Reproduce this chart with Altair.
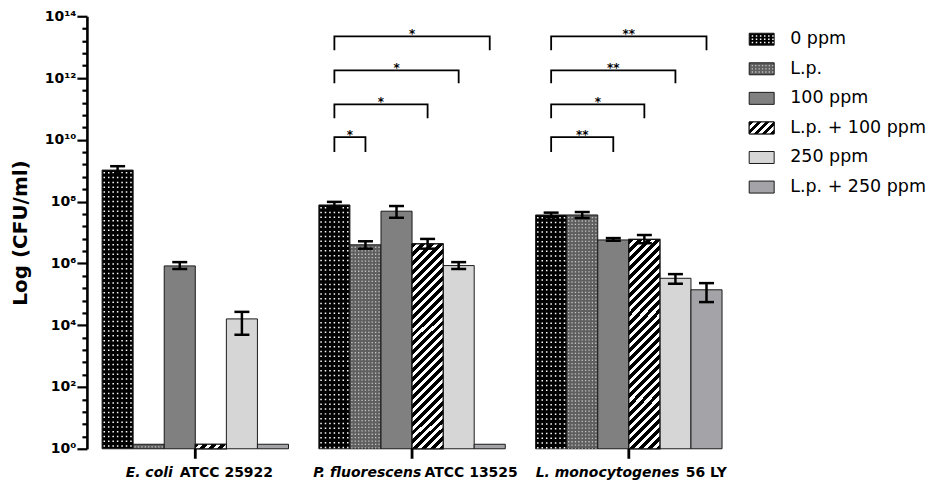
import math
import altair as alt
import pandas as pd

# ---------------- data ----------------
groups = ["E. coli ATCC 25922", "P. fluorescens ATCC 13525", "L. monocytogenes 56 LY"]
group_italic = ["E. coli", "P. fluorescens", "L. monocytogenes"]
group_plain = ["ATCC 25922", "ATCC 13525", "56 LY"]
treatments = ["0 ppm", "L.p.", "100 ppm", "L.p. + 100 ppm", "250 ppm", "L.p. + 250 ppm"]

ecoli_mean = [1.05e9, 1.4, 8.3e5, 1.4, 1.6e4, 1.4]
ecoli_low = [7.5e8, None, 6.6e5, None, 4.9e3, None]
ecoli_high = [1.4e9, None, 1.1e6, None, 2.7e4, None]

pfluo_mean = [7.8e7, 4.0e6, 4.9e7, 4.3e6, 8.5e5, 1.4]
pfluo_low = [6.2e7, 3.0e6, 3.0e7, 3.0e6, 6.6e5, None]
pfluo_high = [9.8e7, 5.2e6, 7.2e7, 6.2e6, 1.1e6, None]

lmono_mean = [3.7e7, 3.7e7, 5.75e6, 6.0e6, 3.3e5, 1.4e5]
lmono_low = [3.2e7, 2.95e7, 5.4e6, 4.5e6, 2.2e5, 5.6e4]
lmono_high = [4.4e7, 4.6e7, 6.6e6, 8.3e6, 4.5e5, 2.3e5]

# significance brackets, all starting at "0 ppm"
sig_group = [groups[1]] * 4 + [groups[2]] * 4
sig_to = ["L.p.", "L.p. + 100 ppm", "250 ppm", "L.p. + 250 ppm",
          "100 ppm", "L.p. + 100 ppm", "250 ppm", "L.p. + 250 ppm"]
sig_label = ["*", "*", "*", "*", "**", "*", "**", "**"]
sig_top = [1.23e10, 1.41e11, 1.78e12, 2.24e13] * 2
sig_foot = [4.0e9, 5.0e10, 6.8e11, 7.9e12] * 2

# axis ticks: labelled decades and minor ticks every 0.4 decade
major_exps = [0, 2, 4, 6, 8, 10, 12, 14]
minor_exps = [round(0.4 * k, 1) for k in range(36) if (k % 5) != 0]

# ---------------- tables ----------------
rows = []
for g, ms, lo, hi in [(groups[0], ecoli_mean, ecoli_low, ecoli_high),
                      (groups[1], pfluo_mean, pfluo_low, pfluo_high),
                      (groups[2], lmono_mean, lmono_low, lmono_high)]:
    for t, m, l, h in zip(treatments, ms, lo, hi):
        rows.append({"group": g, "treatment": t, "mean": m, "low": l, "high": h})
df = pd.DataFrame(rows)
err = df.dropna(subset=["low"]).copy()

br_rows, star_rows = [], []
for i, (g, to, lab, top, foot) in enumerate(zip(sig_group, sig_to, sig_label, sig_top, sig_foot)):
    pts = [(treatments[0], foot), (treatments[0], top), (to, top), (to, foot)]
    for s, (t, yv) in enumerate(pts):
        br_rows.append({"group": g, "bid": i, "seq": s, "treatment": t, "y": yv})
    mid = (0 + treatments.index(to)) / 2
    star_rows.append({"group": g, "treatment": treatments[int(math.floor(mid))],
                      "half": mid != int(mid), "label": lab, "top": top})
br = pd.DataFrame(br_rows)
stars = pd.DataFrame(star_rows)
labs = pd.DataFrame({"group": groups, "italic": group_italic, "plain": group_plain})

# ---------------- styles ----------------
fill_colors = ["#000000", "#5f5f5f", "#808080", "#000000", "#d6d6d6", "#a3a3a8"]
W, H = 651, 433
BAR_W = 31.1


def stripes(w, h, period, white=0.45):
    a = (w + h) * w * h / (w * w + h * h)
    n = (w + h) / period
    stops = []
    k = 0
    while k / n < 1:
        for off, col in [(k / n, "black"), ((k + 1 - white) / n, "black"),
                         ((k + 1 - white) / n, "white"), ((k + 1) / n, "white")]:
            stops.append(alt.GradientStop(color=col, offset=min(off, 1.0)))
        k += 1
    return alt.LinearGradient(gradient="linear", stops=stops, x1=0, y1=0, x2=a / h, y2=a / w)


x_scale = alt.Scale(domain=groups, paddingInner=0.14, paddingOuter=0.07)
xo_scale = alt.Scale(domain=treatments, paddingInner=0, paddingOuter=0)
y_scale = alt.Scale(type="log", domain=[1, 1e14])
fill_scale = alt.Scale(domain=treatments, range=fill_colors)

LOGV = "round(log(datum.value)/LN10)"
LABEL_EXPR = (f"'10' + ({LOGV} >= 10 ? '\u00b9' : '') + "
              "['\u2070','\u00b9','\u00b2','\u00b3','\u2074','\u2075','\u2076','\u2077','\u2078','\u2079']"
              f"[{LOGV} % 10]")

y_axis = alt.Axis(orient="left", values=[10 ** e for e in major_exps], labelExpr=LABEL_EXPR,
                  tickSize=10, tickWidth=2.2, tickColor="black", domainColor="black", domainWidth=2.6,
                  labelFont="DejaVu Sans", labelFontWeight="bold", labelFontSize=14,
                  labelColor="black", labelPadding=1, labelOverlap=False,
                  titleFont="DejaVu Sans", titleFontSize=20, titleFontWeight="bold",
                  titleColor="black", titlePadding=14, grid=False)
y_minor_axis = alt.Axis(orient="left", values=[10 ** e for e in minor_exps], labels=False,
                        tickSize=5, tickWidth=2.2, tickColor="black", domain=False, grid=False,
                        title=None)
x_axis = alt.Axis(labels=False, title=None, ticks=True, tickSize=10, tickWidth=2.8,
                  tickColor="black", domainColor="black", domainWidth=2.6, grid=False, zindex=1)


def X(axis=None):
    return alt.X("group:N", scale=x_scale, axis=axis, title=None)


def XO():
    return alt.XOffset("treatment:N", scale=xo_scale)


def Y(field, axis=None):
    return alt.Y(f"{field}:Q", scale=y_scale, axis=axis)


layers = []
bars = alt.Chart(df).mark_bar(stroke="#1a1a1a", strokeWidth=1).encode(
    x=X(x_axis), xOffset=XO(),
    y=alt.Y("mean:Q", scale=y_scale, axis=y_axis, title="Log (CFU/ml)"),
    y2=alt.datum(1),
    fill=alt.Fill("treatment:N", scale=fill_scale, legend=None),
)
layers.append(bars)

striped = alt.Chart(df[df.treatment == "L.p. + 100 ppm"]).mark_bar(
    fill=stripes(BAR_W, 207, 9.0), stroke="#111111", strokeWidth=1.2
).encode(x=X(), xOffset=XO(), y=Y("mean"), y2=alt.datum(1))
layers.append(striped)

# dotted textures
dot_specs = [
    ("0 ppm", 0, [(i - 3) * 4.45 for i in range(7)], "white", 1.5, [1.5, 3.3]),
    ("L.p.", 1, [(i - 4) * 3.4 for i in range(9)], "#c4c4c4", 1.3, [1.3, 2.1]),
]
for tname, tidx, cols, col, sw, dash in dot_specs:
    sub = df[df.treatment == tname]
    base_off = (tidx - 2.5) * BAR_W
    for c in cols:
        layers.append(alt.Chart(sub).mark_rule(
            xOffset=base_off + c, stroke=col, strokeWidth=sw, strokeDash=dash,
            strokeDashOffset=-2
        ).encode(x=X(), y=Y("mean"), y2=alt.datum(1)))

# error bars (this layer also carries the minor-tick axis)
layers.append(alt.Chart(err).mark_rule(color="black", strokeWidth=2.5).encode(
    x=X(), xOffset=XO(), y=Y("low", y_minor_axis), y2=alt.Y2("high:Q")))
for f in ["low", "high"]:
    layers.append(alt.Chart(err).mark_tick(color="black", thickness=2.5, size=15, opacity=1).encode(
        x=X(), xOffset=XO(), y=Y(f)))

# significance brackets
layers.append(alt.Chart(br).mark_line(color="black", strokeWidth=1.8, strokeJoin="miter").encode(
    x=X(), xOffset=XO(), y=Y("y"), detail="bid:N", order="seq:Q"))
for half, dx in [(False, 0), (True, BAR_W / 2)]:
    layers.append(alt.Chart(stars[stars.half == half]).mark_text(
        font="DejaVu Sans", fontSize=12, fontWeight="bold", baseline="alphabetic", dy=2, dx=dx,
        color="black"
    ).encode(x=X(), xOffset=XO(), y=Y("top"), text="label:N"))

# category ticks below the x axis
layers.append(alt.Chart(labs).mark_rule(color="black", strokeWidth=2.8).encode(
    x=X(), y=alt.value(H), y2=alt.value(H + 10)))

# category labels (italic species + plain strain)
split_italic = [-22.5, 9.2, 50.5]
split_plain = [-15.5, 12.5, 57.0]
for i, g in enumerate(groups):
    sub = labs[labs.group == g]
    layers.append(alt.Chart(sub).mark_text(
        font="DejaVu Sans", fontSize=14, fontWeight="bold", fontStyle="italic",
        align="right", baseline="middle", dx=split_italic[i], color="black"
    ).encode(x=X(), y=alt.value(H + 24), text="italic:N"))
    layers.append(alt.Chart(sub).mark_text(
        font="DejaVu Sans", fontSize=14, fontWeight="bold",
        align="left", baseline="middle", dx=split_plain[i], color="black"
    ).encode(x=X(), y=alt.value(H + 24), text="plain:N"))

main = alt.layer(*layers).resolve_axis(y="independent").properties(width=W, height=H)

# ---------------- custom legend ----------------
leg = pd.DataFrame({"treatment": treatments})
ly = alt.Y("treatment:N", scale=alt.Scale(domain=treatments, paddingInner=0.595, paddingOuter=0.574),
           axis=None)
leg_layers = [
    alt.Chart(leg).mark_rect(stroke="#1a1a1a", strokeWidth=1).encode(
        y=ly, x=alt.value(0), x2=alt.value(25),
        fill=alt.Fill("treatment:N", scale=fill_scale, legend=None)),
    alt.Chart(leg[leg.treatment == "L.p. + 100 ppm"]).mark_rect(
        fill=stripes(25, 12, 8.0), stroke="#111111", strokeWidth=1).encode(
        y=ly, x=alt.value(0), x2=alt.value(25)),
]
for tname, col, sw, dash in [("0 ppm", "white", 1.5, [1.5, 2.6]), ("L.p.", "#c4c4c4", 1.3, [1.3, 2.1])]:
    for yo in [-3.2, 0, 3.2]:
        leg_layers.append(alt.Chart(leg[leg.treatment == tname]).mark_rule(
            yOffset=yo, stroke=col, strokeWidth=sw, strokeDash=dash, strokeDashOffset=-1.5
        ).encode(y=ly, x=alt.value(1), x2=alt.value(24.5)))
leg_layers.append(alt.Chart(leg).mark_text(
    font="DejaVu Sans", fontSize=17.5, align="left", baseline="middle", color="black"
).encode(y=ly, x=alt.value(41), text="treatment:N"))
legend = alt.layer(*leg_layers).properties(width=170, height=194)

chart = alt.hconcat(main, legend, spacing=12, bounds="flush").resolve_scale(
    x="independent", y="independent"
).configure_view(stroke=None).properties(
    padding={"left": 2, "top": 1, "right": 0, "bottom": 2}, background="white"
)

chart.save("out.html", embed_options={"renderer": "svg", "actions": False})
